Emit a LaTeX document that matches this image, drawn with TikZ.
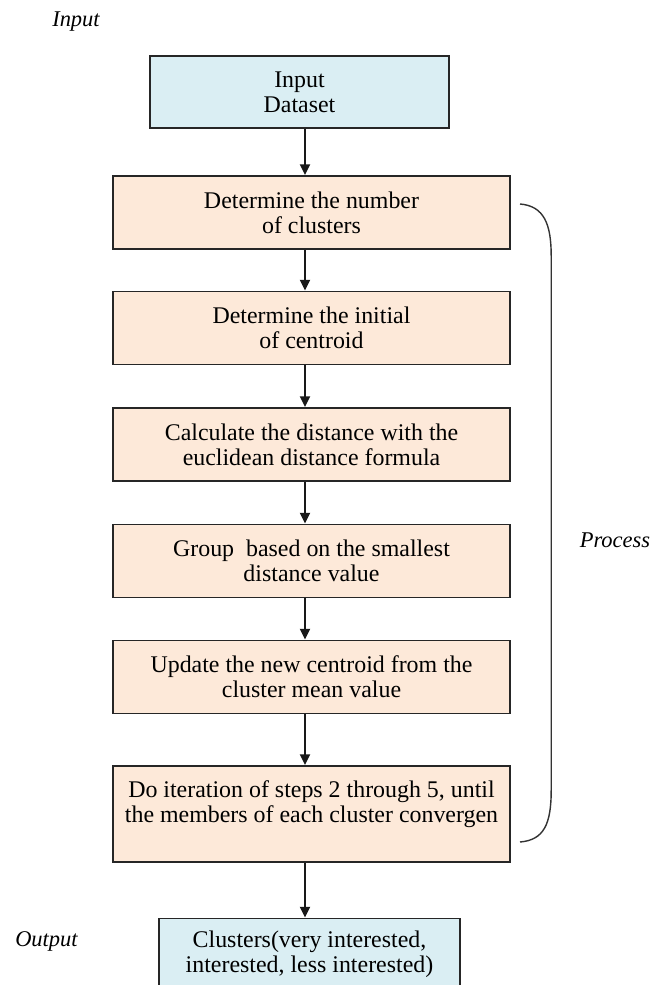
\documentclass[tikz,border=0pt]{standalone}
\usepackage{fontspec}
\setmainfont{Liberation Serif}
\usetikzlibrary{arrows.meta}
\definecolor{inblue}{HTML}{DAEEF3}
\definecolor{procpeach}{HTML}{FDE9D9}
\begin{document}
\begin{tikzpicture}[
  font=\fontsize{17}{17.8}\selectfont,
  iobox/.style={rectangle, draw=black!85, fill=inblue, line width=1.3pt, align=center, minimum height=1.8cm},
  procbox/.style={rectangle, draw=black!85, fill=procpeach, line width=1.3pt, align=center, minimum width=9.925cm, minimum height=1.825cm},
  sidelabel/.style={font=\fontsize{16}{17}\selectfont\itshape},
  flowarrow/.style={-{Triangle[length=0.27cm, width=0.25cm]}, line width=1.3pt, black!90},
  bracket/.style={line width=1pt, black!80}
]
\useasboundingbox (0,0) rectangle (16.35,-24.625);

% Input
\node[sidelabel] (in_lbl) at (1.9,-0.55) {Input};
\node[iobox, minimum width=7.475cm] (in) at (7.4875,-2.3) {Input\\Dataset};

% Process steps
\node[procbox, below of=in, node distance=3.0125cm, xshift=0.3cm] (n_clust) {Determine the number\\ of clusters};
\node[procbox, below of=n_clust, node distance=2.8875cm] (init_cent) {Determine the initial\\ of centroid};
\node[procbox, below of=init_cent, node distance=2.9125cm] (calc_dist) {Calculate the distance with the\\euclidean distance formula};
\node[procbox, below of=calc_dist, node distance=2.9125cm] (grp) {Group\ \ based on the smallest\\distance value};
\node[procbox, below of=grp, node distance=2.9cm] (upd_cent) {Update the new centroid from the\\cluster mean value};
\node[procbox, below of=upd_cent, node distance=3.425cm, minimum height=2.4cm] (iter) {Do iteration of steps 2 through 5, until\\the members of each cluster convergen\\ \mbox{}};

% Output
\node[iobox, below of=iter, node distance=3.5125cm, xshift=-0.05cm, minimum width=7.525cm] (out) {Clusters(very interested,\\interested, less interested)};
\node[sidelabel] (out_lbl) at (1.1625,-23.525) {Output};

% Arrows
\coordinate (ax) at (7.625,0);
\draw[flowarrow] (in.south -| ax) -- (n_clust.north -| ax);
\draw[flowarrow] (n_clust.south -| ax) -- (init_cent.north -| ax);
\draw[flowarrow] (init_cent.south -| ax) -- (calc_dist.north -| ax);
\draw[flowarrow] (calc_dist.south -| ax) -- (grp.north -| ax);
\draw[flowarrow] (grp.south -| ax) -- (upd_cent.north -| ax);
\draw[flowarrow] (upd_cent.south -| ax) -- (iter.north -| ax);
\draw[flowarrow] (iter.south -| ax) -- (out.north -| ax);

% Process bracket
\draw[bracket] (13,-5.1) .. controls (13.6,-5.15) and (13.78,-5.6) .. (13.78,-6.4)
  -- (13.78,-19.75) .. controls (13.78,-20.6) and (13.6,-21.0) .. (13,-21.05);
\node[sidelabel] (proc_lbl) at (15.375,-13.5) {Process};

\end{tikzpicture}
\end{document}
